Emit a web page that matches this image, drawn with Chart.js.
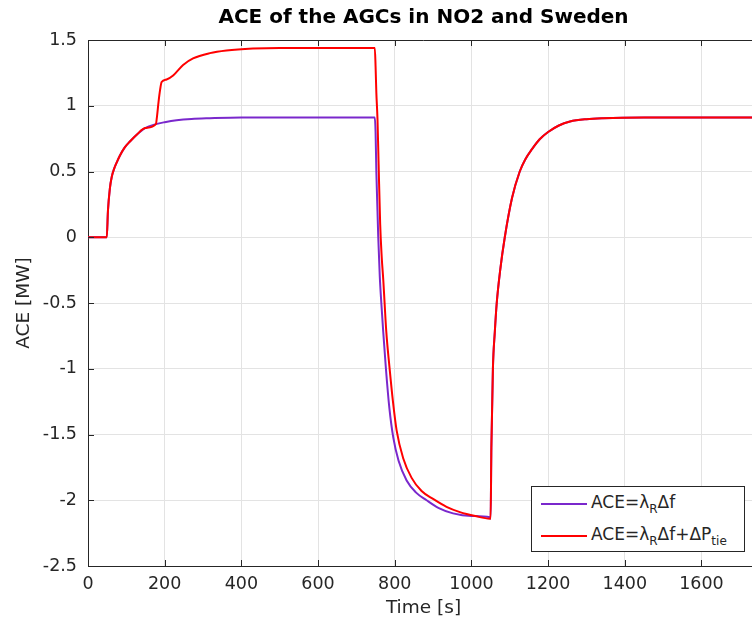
<!DOCTYPE html>
<html>
<head>
<meta charset="utf-8">
<script src="https://cdn.jsdelivr.net/npm/chart.js@4"></script>
<style>
  html, body { margin: 0; padding: 0; background: #fff; }
  #wrap { position: relative; width: 752px; height: 630px; overflow: hidden; }
  #c { position: absolute; left: 0; top: 0; }
  #legend {
    position: absolute; left: 531px; top: 486px; width: 212px; height: 64px;
    border: 1px solid #262626; background: #fff;
    font-family: "DejaVu Sans", sans-serif; font-size: 17px; color: #262626;
  }
  .row { position: absolute; left: 0; height: 20px; white-space: nowrap; }
  .sw { position: absolute; left: 9px; width: 46px; height: 2px; }
  .tx { position: absolute; left: 59px; top: 0; line-height: 20px; }
  .tx sub { font-size: 12px; position: relative; top: 5px; vertical-align: baseline; line-height: 0; }
</style>
</head>
<body>
<div id="wrap">
  <canvas id="c" width="770" height="630"></canvas>
  <div id="legend">
    <div class="row" style="top:5px"><div class="sw" style="top:11px;background:#7a28cc"></div><div class="tx">ACE=λ<sub>R</sub>Δf</div></div>
    <div class="row" style="top:37px"><div class="sw" style="top:11px;background:#ff0000"></div><div class="tx">ACE=λ<sub>R</sub>Δf+ΔP<sub>tie</sub></div></div>
  </div>
</div>
<script>
// ---- data ----
const titleText = "ACE of the AGCs in NO2 and Sweden";
const xLabel = "Time [s]";
const yLabel = "ACE [MW]";
const xTicks = [0, 200, 400, 600, 800, 1000, 1200, 1400, 1600];
const yTicks = [-2.5, -2, -1.5, -1, -0.5, 0, 0.5, 1, 1.5];

// ACE = lambda_R * delta f (purple)
const timePurple = [0, 45, 49, 52, 57, 62, 68, 75, 83, 95, 110, 127, 149, 177, 200, 231, 270, 318, 400, 500, 748,
  750, 752, 755, 757, 761, 765, 770, 777, 786, 796, 810, 831, 855, 883, 915, 952, 1000, 1048,
  1050, 1052, 1056, 1061, 1066, 1075, 1087, 1106, 1126, 1140, 1158, 1178, 1200, 1228, 1257, 1300, 1343, 1450, 1750];
const acePurple = [0, 0, 0, 0.2, 0.37, 0.46, 0.52, 0.57, 0.62, 0.68, 0.73, 0.78, 0.83, 0.86, 0.875, 0.89, 0.9, 0.905, 0.91, 0.91, 0.91,
  0.8, 0.5, 0.2, 0.0, -0.3, -0.5, -0.72, -1.0, -1.3, -1.52, -1.7, -1.85, -1.94, -2.0, -2.06, -2.1, -2.12, -2.13,
  -2.14, -1.6, -1.0, -0.72, -0.5, -0.25, 0.0, 0.3, 0.5, 0.59, 0.67, 0.745, 0.8, 0.85, 0.88, 0.898, 0.905, 0.91, 0.91];

// ACE = lambda_R * delta f + delta P_tie (red)
const timeRed = [0, 45, 49, 52, 57, 62, 68, 75, 83, 95, 110, 127, 149, 177, 180, 184, 188, 192, 205, 222, 248, 274, 318, 361, 430, 500, 748,
  750, 752, 755, 758, 762, 766, 770, 778, 786, 795, 805, 822, 844, 870, 900, 935, 970, 1010, 1048,
  1050, 1052, 1056, 1061, 1066, 1075, 1087, 1106, 1126, 1140, 1158, 1178, 1200, 1228, 1257, 1300, 1343, 1450, 1750];
const aceRed = [0, 0, 0, 0.2, 0.37, 0.46, 0.52, 0.57, 0.62, 0.68, 0.73, 0.78, 0.83, 0.86, 0.92, 1.03, 1.12, 1.18, 1.2, 1.23, 1.31, 1.36, 1.4, 1.42, 1.435, 1.44, 1.44,
  1.3, 1.1, 0.9, 0.55, 0.1, -0.15, -0.32, -0.72, -0.98, -1.24, -1.47, -1.68, -1.83, -1.93, -1.99, -2.05, -2.09, -2.12, -2.14,
  -2.14, -1.6, -1.0, -0.72, -0.5, -0.25, 0.0, 0.3, 0.5, 0.59, 0.67, 0.745, 0.8, 0.85, 0.88, 0.898, 0.905, 0.91, 0.91];

const toXY = (xs, ys) => xs.map((x, i) => ({ x: x, y: ys[i] }));

const FONT = '"DejaVu Sans", sans-serif';
const AX = '#262626';
const PLOT = { left: 88, top: 40, right: 759, bottom: 566 };

const boxTicks = {
  id: 'boxTicks',
  afterDatasetsDraw(chart) {
    const { ctx, chartArea: a, scales: { x, y } } = chart;
    ctx.save();
    ctx.strokeStyle = AX;
    ctx.lineWidth = 1;
    ctx.beginPath();
    ctx.moveTo(a.left, a.top + 0.5); ctx.lineTo(a.right, a.top + 0.5);
    ctx.moveTo(a.right - 0.5, a.top); ctx.lineTo(a.right - 0.5, a.bottom);
    xTicks.forEach(v => {
      const px = Math.round(x.getPixelForValue(v)) + 0.5;
      ctx.moveTo(px, a.bottom); ctx.lineTo(px, a.bottom - 6);
      ctx.moveTo(px, a.top); ctx.lineTo(px, a.top + 6);
    });
    yTicks.forEach(v => {
      const py = Math.round(y.getPixelForValue(v)) + 0.5;
      ctx.moveTo(a.left, py); ctx.lineTo(a.left + 6, py);
      ctx.moveTo(a.right, py); ctx.lineTo(a.right - 6, py);
    });
    ctx.stroke();
    ctx.restore();
  }
};

new Chart(document.getElementById('c'), {
  type: 'line',
  data: {
    datasets: [
      { label: 'ACE=λRΔf', data: toXY(timePurple, acePurple), borderColor: '#7a28cc', borderWidth: 2, pointRadius: 0, cubicInterpolationMode: 'monotone', order: 1 },
      { label: 'ACE=λRΔf+ΔPtie', data: toXY(timeRed, aceRed), borderColor: '#ff0000', borderWidth: 2, pointRadius: 0, cubicInterpolationMode: 'monotone', order: 0 }
    ]
  },
  options: {
    responsive: false,
    devicePixelRatio: 1,
    animation: false,
    layout: { padding: { left: 0, right: 770 - PLOT.right, top: 0, bottom: 0 } },
    plugins: {
      legend: { display: false },
      tooltip: { enabled: false },
      title: {
        display: true, text: titleText, fullSize: false, color: '#000',
        font: { family: FONT, size: 20, weight: 'bold', lineHeight: 1.2 },
        padding: { top: 6, bottom: PLOT.top - 6 - 24 }
      }
    },
    scales: {
      x: {
        type: 'linear', min: 0, max: 1750,
        afterBuildTicks: s => { s.ticks = xTicks.map(v => ({ value: v })); },
        afterFit: s => { s.height = 630 - PLOT.bottom; },
        ticks: { color: AX, padding: 8, font: { family: FONT, size: 17.5 }, maxRotation: 0, autoSkip: false, callback: v => String(v) },
        grid: { color: '#e3e3e3', drawTicks: false },
        border: { color: AX, width: 1 },
        title: { display: true, text: xLabel, color: AX, font: { family: FONT, size: 18.5, lineHeight: 1.2 }, padding: { top: 0, bottom: 11 } }
      },
      y: {
        type: 'linear', min: -2.5, max: 1.5,
        afterBuildTicks: s => { s.ticks = yTicks.map(v => ({ value: v })); },
        afterFit: s => { s.width = PLOT.left; },
        ticks: { color: AX, padding: 11, font: { family: FONT, size: 17.5 }, autoSkip: false, callback: v => String(v) },
        grid: { color: '#e3e3e3', drawTicks: false },
        border: { color: AX, width: 1 },
        title: { display: true, text: yLabel, color: AX, font: { family: FONT, size: 18.5, lineHeight: 1.2 }, padding: { top: 13, bottom: 0 } }
      }
    }
  },
  plugins: [boxTicks]
});
</script>
</body>
</html>
